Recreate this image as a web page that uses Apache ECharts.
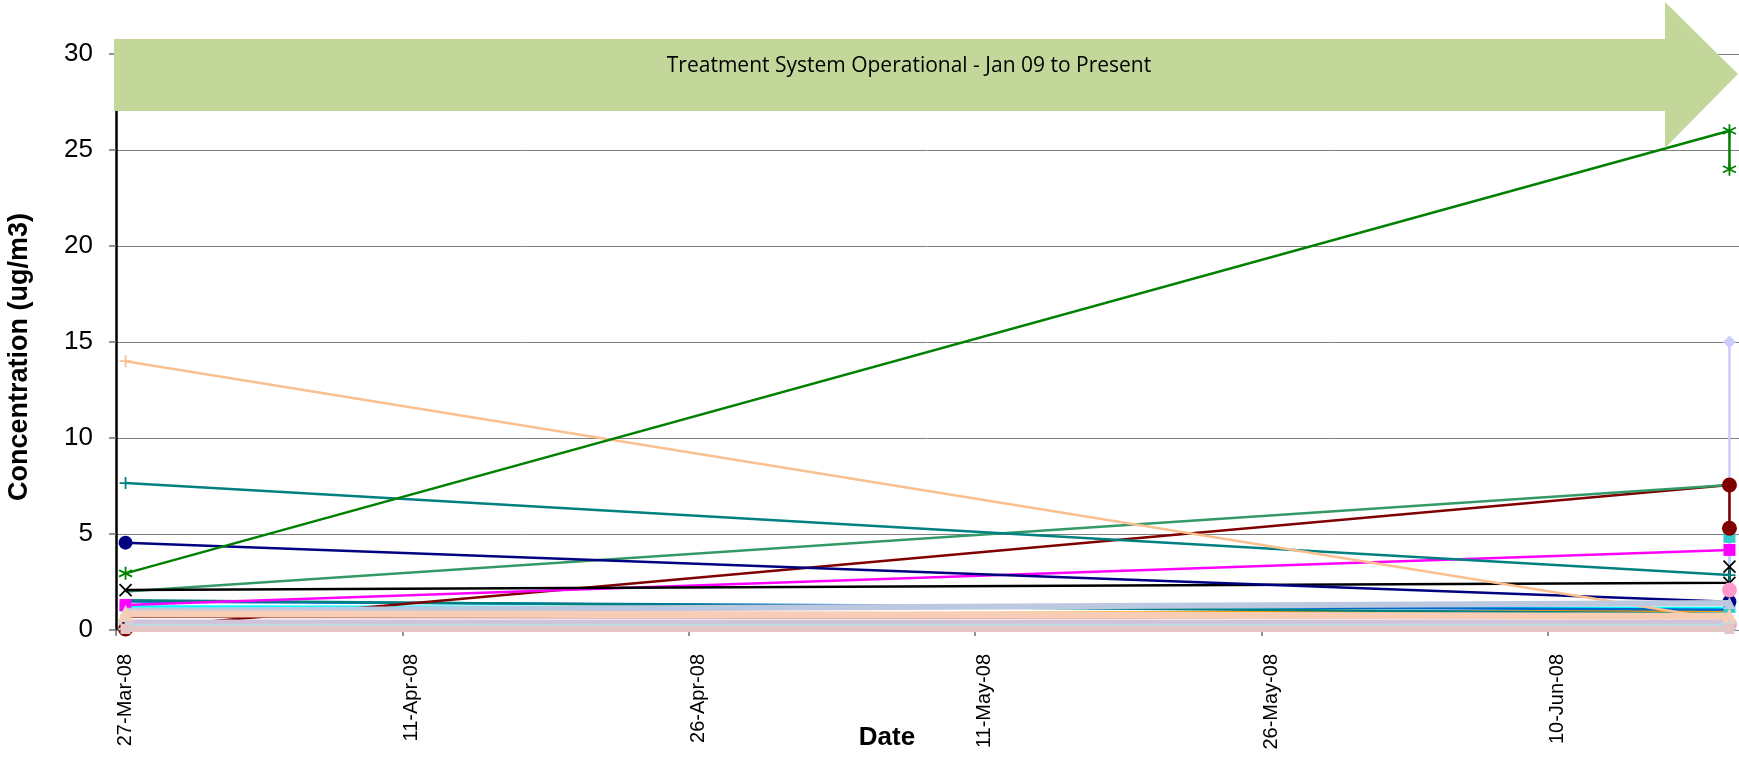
<!DOCTYPE html>
<html>
<head>
<meta charset="utf-8">
<script src="https://cdn.jsdelivr.net/npm/echarts@6/dist/echarts.min.js"></script>
<style>
  html, body { margin: 0; padding: 0; background: #ffffff; }
  #chart { width: 1739px; height: 759px; }
</style>
</head>
<body>
<div id="chart"></div>
<script>
// ---------------- DATA ----------------
// Sampling dates: the first round, then the second round (with duplicate samples)
const sampleDates = ['2008-03-27', '2008-06-19', '2008-06-19'];

// Date-axis tick labels
const tickDates = ['2008-03-27', '2008-04-11', '2008-04-26', '2008-05-11', '2008-05-26', '2008-06-10'];
const yTicks = [0, 5, 10, 15, 20, 25, 30];

// Series values (ug/m3) at sampleDates; null = no sample
const seriesNavy      = [4.55, 1.47, null];
const seriesGreen     = [2.95, 26.0, 24.0];
const seriesPeach     = [14.0, 0.5, null];
const seriesTeal      = [7.65, 2.86, null];
const seriesSeaGreen  = [2.0, 7.55, null];
const seriesDarkRed   = [0.05, 7.55, 5.3];
const seriesMagenta   = [1.3, 4.17, null];
const seriesBlack     = [2.08, 2.46, 3.3];
const seriesCyan      = [1.22, 1.15, 4.8];
const seriesTeal2     = [1.55, 0.85, null];
const seriesBlue      = [1.48, 1.05, null];
const seriesOrange    = [0.75, 1.0, null];
const seriesBrown     = [0.68, 0.62, null];
const seriesLavender  = [0.3, 0.3, 15.0];
const seriesPink      = [null, 2.08, 0.3];
const seriesSteelBlue = [1.0, 1.4, null];
const seriesLtPeach   = [0.85, 0.72, null];
const seriesMauve     = [0.42, 0.4, null];
const seriesLtBlue    = [0.2, 0.2, null];
const seriesRose      = [0.05, 0.05, null];

const bannerText = 'Treatment System Operational - Jan 09 to Present';
const yTitle = 'Concentration (ug/m3)';
const xTitle = 'Date';

// ---------------- HELPERS ----------------
const MONTHS = ['Jan','Feb','Mar','Apr','May','Jun','Jul','Aug','Sep','Oct','Nov','Dec'];
function dayNum(s) {
  const p = s.split('-').map(Number);
  return Date.UTC(p[0], p[1] - 1, p[2]) / 86400000;
}
function fmtDay(v) {
  const d = new Date(Math.floor(v + 1e-6) * 86400000);
  return d.getUTCDate() + '-' + MONTHS[d.getUTCMonth()] + '-' + String(d.getUTCFullYear()).slice(2);
}
// points sit in the middle of their day (date-axis "between" placement)
function pts(vals) {
  const out = [];
  vals.forEach((v, i) => { if (v !== null) out.push([dayNum(sampleDates[i]) + 0.5, v]); });
  return out;
}

const SYM_AST = 'path://M5,0 L5,10 M0.7,2.5 L9.3,7.5 M0.7,7.5 L9.3,2.5';
const SYM_X = 'path://M0,0 L10,10 M10,0 L0,10';
const SYM_PLUS = 'path://M5,0 L5,10 M0,5 L10,5';
const SYM_DASH = 'path://M0,4 L10,4 L10,6 L0,6 Z';

function line(name, vals, color, opt) {
  opt = opt || {};
  const stroke = opt.stroke;
  return {
    name: name,
    type: 'line',
    data: pts(vals),
    showSymbol: opt.symbol !== undefined && opt.symbol !== 'none',
    symbol: opt.symbol || 'none',
    symbolSize: opt.size || 10,
    lineStyle: { color: color, width: opt.width || 2.5 },
    itemStyle: stroke
      ? { color: 'rgba(0,0,0,0)', borderColor: color, borderWidth: opt.bw || 1.8 }
      : { color: opt.mcolor || color, borderWidth: 0 },
    emphasis: { disabled: true },
    animation: false,
    clip: false,
    z: opt.z || 2
  };
}

const xMin = dayNum(tickDates[0]);
const xMax = xMin + 85;

const chart = echarts.init(document.getElementById('chart'), null, { renderer: 'canvas' });

const option = {
  backgroundColor: '#ffffff',
  animation: false,
  grid: { left: 116, top: 54, bottom: 129, right: -3, containLabel: false },
  xAxis: {
    type: 'value',
    min: xMin,
    max: xMax,
    interval: 15,
    axisLine: { show: true, lineStyle: { color: '#808080', width: 1 } },
    axisTick: {
      show: true, inside: false, length: 6,
      lineStyle: { color: '#707070', width: 1.5 },
      customValues: tickDates.map(dayNum)
    },
    splitLine: { show: false },
    axisLabel: {
      rotate: 90,
      margin: 24,
      fontSize: 20,
      color: '#000000',
      fontFamily: 'Liberation Sans, Arial, sans-serif',
      customValues: tickDates.map(d => dayNum(d) + 0.5),
      formatter: v => fmtDay(v)
    }
  },
  yAxis: {
    type: 'value',
    min: yTicks[0],
    max: yTicks[yTicks.length - 1],
    interval: 5,
    axisLine: { show: true, lineStyle: { color: '#000000', width: 2.5 } },
    axisTick: { show: true, inside: false, length: 7, lineStyle: { color: '#707070', width: 1.5 } },
    splitLine: { show: true, lineStyle: { color: '#7f7f7f', width: 1 } },
    axisLabel: {
      margin: 23,
      fontSize: 26,
      color: '#000000',
      fontFamily: 'Liberation Sans, Arial, sans-serif'
    }
  },
  series: [
    line('Brown', seriesBrown, '#993333', { width: 2 }),
    line('Orange', seriesOrange, '#FF9900', { width: 2.5 }),
    line('Cyan', seriesCyan, '#00FFFF', { width: 2.5, symbol: SYM_DASH, size: [12, 10], mcolor: '#33CCCC' }),
    line('Blue', seriesBlue, '#0066CC', { width: 2.5 }),
    line('Teal 2', seriesTeal2, '#008080', { width: 2.5 }),
    line('Lavender', seriesLavender, '#CCCCFF', { width: 2.5, symbol: 'diamond', size: 13 }),
    line('Dark red', seriesDarkRed, '#800000', { width: 2.5, symbol: 'circle', size: 15 }),
    line('Sea green', seriesSeaGreen, '#339966', { width: 2.5 }),
    line('Magenta', seriesMagenta, '#FF00FF', { width: 2.5, symbol: 'rect', size: 12 }),
    line('Black', seriesBlack, '#000000', { width: 2.5, symbol: SYM_X, size: 12, stroke: true, bw: 1.8 }),
    line('Teal', seriesTeal, '#008080', { width: 2.5, symbol: SYM_PLUS, size: 12, stroke: true, bw: 1.8 }),
    line('Navy', seriesNavy, '#000080', { width: 2.5, symbol: 'circle', size: 14 }),
    line('Peach', seriesPeach, '#FAC090', { width: 2.5, symbol: SYM_PLUS, size: 12, stroke: true, bw: 1.8 }),
    line('Green', seriesGreen, '#008000', { width: 2.5, symbol: SYM_AST, size: 13, stroke: true, bw: 1.8 }),
    line('Pink', seriesPink, '#FF99CC', { width: 2.5, symbol: 'circle', size: 15 }),
    line('Steel blue', seriesSteelBlue, '#BCC8DF', { width: 6, symbol: 'triangle', size: 12, z: 3 }),
    line('Light peach', seriesLtPeach, '#F8CDB6', { width: 7, symbol: 'triangle', size: 16, z: 3 }),
    line('Mauve', seriesMauve, '#D0C2D8', { width: 5, z: 3 }),
    line('Light blue', seriesLtBlue, '#BBDAE4', { width: 5, symbol: SYM_AST, size: 14, stroke: true, bw: 2, z: 3 }),
    line('Rose', seriesRose, '#E4C6C6', { width: 6, symbol: 'rect', size: 10, z: 3 })
  ],
  graphic: [
    {
      type: 'polygon',
      z: 100,
      shape: { points: [[114, 39], [1665, 39], [1665, 2], [1738, 74], [1665, 148], [1665, 111], [114, 111]] },
      style: { fill: '#C4D79B' }
    },
    {
      type: 'text',
      z: 101,
      x: 909,
      y: 66,
      style: {
        text: bannerText,
        fill: '#000000',
        font: '21px "Open Sans", "Noto Sans", sans-serif',
        align: 'center',
        verticalAlign: 'middle'
      }
    },
    {
      type: 'text',
      z: 101,
      x: 20,
      y: 357,
      rotation: Math.PI / 2,
      style: {
        text: yTitle,
        fill: '#000000',
        font: 'bold 27px "Liberation Sans", Arial, sans-serif',
        align: 'center',
        verticalAlign: 'middle'
      }
    },
    {
      type: 'text',
      z: 101,
      x: 887,
      y: 738,
      style: {
        text: xTitle,
        fill: '#000000',
        font: 'bold 26px "Liberation Sans", Arial, sans-serif',
        align: 'center',
        verticalAlign: 'middle'
      }
    }
  ]
};
chart.setOption(option);
</script>
</body>
</html>
